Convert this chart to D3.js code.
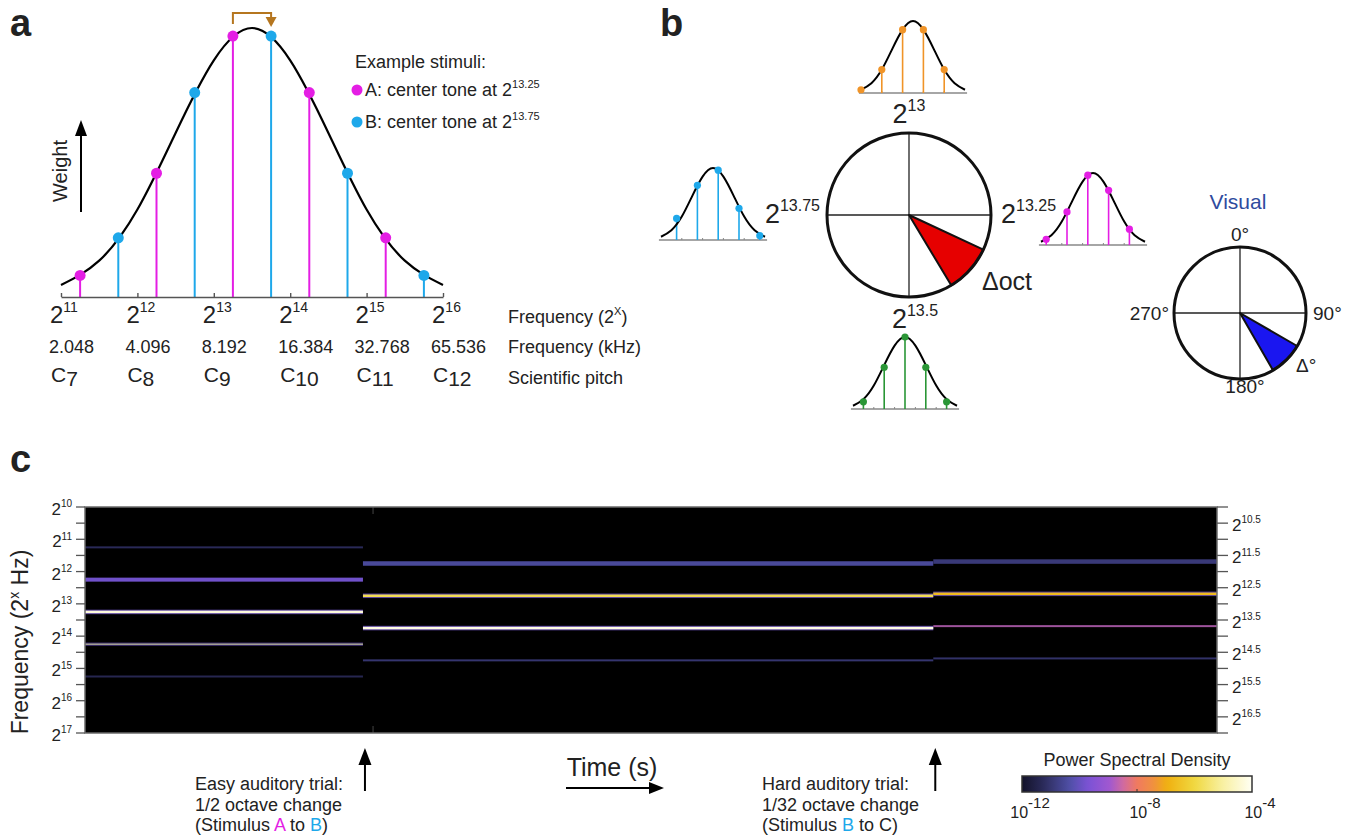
<!DOCTYPE html>
<html>
<head>
<meta charset="utf-8">
<script src="https://cdn.jsdelivr.net/npm/d3@7"></script>
<style>
  body { margin: 0; background: #fff; }
  svg { font-family: "Liberation Sans", Arial, sans-serif; }
</style>
</head>
<body>
<div class="fig"></div>
<script>
// ---------------- data ----------------
// spectral envelope: weight against octave offset from the envelope peak
const envOffsets = [-2.5, -2, -1.5, -1, -0.5, 0, 0.5, 1, 1.5, 2, 2.5];
const envWeights = [0.045, 0.135, 0.325, 0.61, 0.88, 1, 0.88, 0.61, 0.325, 0.135, 0.045];
const envCenter = 13.5;

// example stimuli (octave of each tone, weight)
const stimAOct = [11.25, 12.25, 13.25, 14.25, 15.25];
const stimAWeight = [0.08, 0.46, 0.97, 0.76, 0.22];
const stimBOct = [11.75, 12.75, 13.75, 14.75, 15.75];
const stimBWeight = [0.22, 0.76, 0.97, 0.46, 0.08];

const octTicks = [11, 12, 13, 14, 15, 16];
const kHzLabels = ['2.048', '4.096', '8.192', '16.384', '32.768', '65.536'];
const pitchLabels = ['7', '8', '9', '10', '11', '12'];

// panel b: the four stimuli round the octave circle (tone offsets from envelope peak)
const mini13Off = [-2.5, -1.5, -0.5, 0.5, 1.5];
const mini13W = [0.045, 0.325, 0.88, 0.88, 0.325];
const mini1325Off = [-2.25, -1.25, -0.25, 0.75, 1.75];
const mini1325W = [0.08, 0.46, 0.97, 0.76, 0.22];
const mini135Off = [-2, -1, 0, 1, 2];
const mini135W = [0.1, 0.58, 1, 0.58, 0.1];
const mini1375Off = [-1.75, -0.75, 0.25, 1.25, 2.25];
const mini1375W = [0.3, 0.76, 0.97, 0.44, 0.06];

const octWedge = [115, 149];     // degrees clockwise from top
const visWedge = [120, 150];
const visLabels = ['0°', '90°', '180°', '270°'];

// panel c: spectrogram, three stimulus segments (time in s)
const segStart = [0, 0.965, 2.945];
const segEnd = [0.965, 2.945, 3.93];
const seg1Oct = [11.25, 12.25, 13.25, 14.25, 15.25];
const seg1Psd = [-11.3, -9.85, -4.3, -4.3, -11.4];
const seg2Oct = [11.75, 12.75, 13.75, 14.75];
const seg2Psd = [-10.5, -5.8, -4.2, -11.0];
const seg3Oct = [11.69, 12.69, 13.69, 14.69];
const seg3Psd = [-10.9, -6.7, -8.7, -11.1];
const leftTicks = [10, 11, 12, 13, 14, 15, 16, 17];
const rightTicks = ['10.5', '11.5', '12.5', '13.5', '14.5', '15.5', '16.5'];
const psdTicks = [-12, -8, -4];

// colour map for log10 PSD
const cmapStops = [-12, -11.28, -10.32, -9.68, -8.96, -8.48, -8, -7.44, -6.96, -6, -5.04, -4];
const cmapColors = ['#12122a', '#2a2a58', '#5050a8', '#7c52d6', '#a058d0', '#d06aa0', '#f07a60',
                    '#f09040', '#f0b010', '#f0d840', '#f8f0a0', '#fffff4'];

// ---------------- drawing ----------------
const svg = d3.select('.fig').append('svg').attr('width', 1358).attr('height', 836);

const magenta = '#e41ee4', cyan = '#1ea8ea', orange = '#f09428', green = '#2a9636';

function pow2(g, x, y, exp, size, supSize, anchor) {
  const t = g.append('text').attr('x', x).attr('y', y).attr('font-size', size)
    .attr('text-anchor', anchor || 'start').attr('fill', '#222');
  t.append('tspan').text('2');
  t.append('tspan').attr('font-size', supSize).attr('dy', -size * 0.45).text(exp);
  return t;
}

function panelLabel(x, y, s) {
  svg.append('text').attr('x', x).attr('y', y).attr('font-size', 38).attr('font-weight', 'bold')
    .attr('fill', '#222').text(s);
}
panelLabel(10, 36, 'a');
panelLabel(660, 36, 'b');
panelLabel(10, 472, 'c');

// ===== panel a =====
const ga = svg.append('g');
const xa = d3.scaleLinear().domain([11, 16]).range([61, 443]);
const ya = d3.scaleLinear().domain([0, 1]).range([297, 28]);

const stems = [
  ...stimAOct.map((o, i) => ({ o, w: stimAWeight[i], c: magenta })),
  ...stimBOct.map((o, i) => ({ o, w: stimBWeight[i], c: cyan }))
];
ga.selectAll('line.stem').data(stems).join('line').attr('class', 'stem')
  .attr('x1', d => xa(d.o)).attr('x2', d => xa(d.o))
  .attr('y1', ya(0)).attr('y2', d => ya(d.w))
  .attr('stroke', d => d.c).attr('stroke-width', 2);

const envLine = d3.line().x(d => xa(d[0])).y(d => ya(d[1])).curve(d3.curveNatural);
ga.append('path').datum(envOffsets.map((o, i) => [envCenter + o, envWeights[i]]))
  .attr('d', envLine).attr('fill', 'none').attr('stroke', '#000').attr('stroke-width', 2.2);

ga.selectAll('circle.dot').data(stems).join('circle').attr('class', 'dot')
  .attr('cx', d => xa(d.o)).attr('cy', d => ya(d.w)).attr('r', 5.5).attr('fill', d => d.c);

const axA = ga.append('g').attr('transform', `translate(0,${ya(0)})`)
  .call(d3.axisTop(xa).tickValues(octTicks).tickSize(4).tickSizeOuter(0).tickFormat(''));
axA.select('.domain').attr('stroke', '#555').attr('stroke-width', 1.6);
axA.selectAll('.tick line').attr('stroke', '#555').attr('stroke-width', 1.4);

octTicks.forEach((t, i) => {
  pow2(ga, xa(t) - 11, 323, t, 24, 14);
  ga.append('text').attr('x', xa(t) - 12).attr('y', 353).attr('font-size', 18).attr('fill', '#222').text(kHzLabels[i]);
  const c = ga.append('text').attr('x', xa(t) - 10).attr('y', 382).attr('font-size', 21).attr('fill', '#222');
  c.append('tspan').text('C');
  c.append('tspan').attr('dy', 4).text(pitchLabels[i]);
});
const fq = ga.append('text').attr('x', 508).attr('y', 323).attr('font-size', 18).attr('fill', '#222');
fq.append('tspan').text('Frequency (2');
fq.append('tspan').attr('font-size', 11).attr('dy', -8).text('X');
fq.append('tspan').attr('dy', 8).text(')');
ga.append('text').attr('x', 508).attr('y', 353).attr('font-size', 18).attr('fill', '#222').text('Frequency (kHz)');
ga.append('text').attr('x', 508).attr('y', 384).attr('font-size', 18).attr('fill', '#222').text('Scientific pitch');

// shift arrow from A to B
const brown = '#b5761f';
ga.append('path')
  .attr('d', `M${xa(13.25)},${ya(0.97) - 12} V13 H${xa(13.75)} V19`)
  .attr('fill', 'none').attr('stroke', brown).attr('stroke-width', 2);
ga.append('path')
  .attr('d', `M${xa(13.75) - 5.5},17 L${xa(13.75) + 5.5},17 L${xa(13.75)},27 Z`).attr('fill', brown);

// weight arrow
ga.append('line').attr('x1', 81).attr('x2', 81).attr('y1', 212).attr('y2', 132)
  .attr('stroke', '#000').attr('stroke-width', 2);
ga.append('path').attr('d', 'M75,136 L87,136 L81,120 Z').attr('fill', '#000');
ga.append('text').attr('transform', 'translate(67,171) rotate(-90)').attr('text-anchor', 'middle')
  .attr('font-size', 20).attr('fill', '#222').text('Weight');

// legend
ga.append('text').attr('x', 355).attr('y', 68).attr('font-size', 18).attr('fill', '#222').text('Example stimuli:');
[['A', magenta, '13.25', 96], ['B', cyan, '13.75', 128]].forEach(([lab, col, ex, y]) => {
  ga.append('circle').attr('cx', 357).attr('cy', y - 6).attr('r', 5.5).attr('fill', col);
  const t = ga.append('text').attr('x', 365).attr('y', y).attr('font-size', 18).attr('fill', '#222');
  t.append('tspan').text(lab + ': center tone at 2');
  t.append('tspan').attr('font-size', 11).attr('dy', -8).text(ex);
});

// ===== panel b =====
const gb = svg.append('g');
const unit = 20.8, miniH = 72;

function mini(peakX, baseY, offs, ws, col) {
  const mx = d3.scaleLinear().domain([0, 1]).range([peakX, peakX + unit]);
  const my = d3.scaleLinear().domain([0, 1]).range([baseY, baseY - miniH]);
  const g = gb.append('g');
  g.append('line').attr('x1', mx(-2.6)).attr('x2', mx(2.6)).attr('y1', baseY).attr('y2', baseY)
    .attr('stroke', '#888').attr('stroke-width', 1.5);
  [-1.5, -0.5, 0.5, 1.5].forEach(o => g.append('line').attr('x1', mx(o)).attr('x2', mx(o))
    .attr('y1', baseY).attr('y2', baseY - 2).attr('stroke', '#888'));
  g.selectAll('line.s').data(offs).join('line').attr('class', 's')
    .attr('x1', d => mx(d)).attr('x2', d => mx(d)).attr('y1', baseY).attr('y2', (d, i) => my(ws[i]))
    .attr('stroke', col).attr('stroke-width', 1.6);
  const ln = d3.line().x(d => mx(d[0])).y(d => my(d[1])).curve(d3.curveNatural);
  g.append('path').datum(envOffsets.map((o, i) => [o, envWeights[i]])).attr('d', ln)
    .attr('fill', 'none').attr('stroke', '#000').attr('stroke-width', 2);
  g.selectAll('circle').data(offs).join('circle')
    .attr('cx', d => mx(d)).attr('cy', (d, i) => my(ws[i])).attr('r', 3.6).attr('fill', col);
}
mini(913, 93, mini13Off, mini13W, orange);
mini(1093, 245, mini1325Off, mini1325W, magenta);
mini(905, 409, mini135Off, mini135W, green);
mini(713, 240, mini1375Off, mini1375W, cyan);

function dial(cx, cy, r, wedge, fill, cross, ring) {
  const g = gb.append('g').attr('transform', `translate(${cx},${cy})`);
  g.append('circle').attr('r', r).attr('fill', '#fff');
  g.append('line').attr('x1', -r).attr('x2', r).attr('stroke', '#222').attr('stroke-width', cross);
  g.append('line').attr('y1', -r).attr('y2', r).attr('stroke', '#222').attr('stroke-width', cross);
  const arc = d3.arc().innerRadius(0).outerRadius(r)
    .startAngle(wedge[0] * Math.PI / 180).endAngle(wedge[1] * Math.PI / 180);
  g.append('path').attr('d', arc()).attr('fill', fill).attr('stroke', '#111').attr('stroke-width', 2)
    .attr('stroke-linejoin', 'round');
  g.append('circle').attr('r', r).attr('fill', 'none').attr('stroke', '#111').attr('stroke-width', ring);
}
dial(909, 215, 82, octWedge, '#e60000', 1.3, 3);
pow2(gb, 909, 123, '13', 27, 16, 'middle');
pow2(gb, 820, 223, '13.75', 27, 16, 'end');
pow2(gb, 1001, 223, '13.25', 27, 16, 'start');
pow2(gb, 915, 328, '13.5', 27, 16, 'middle');
gb.append('text').attr('x', 982).attr('y', 290).attr('font-size', 25).attr('fill', '#222').text('Δoct');

dial(1240, 313, 66, visWedge, '#1a16f0', 1.3, 3);
gb.append('text').attr('x', 1238).attr('y', 209).attr('text-anchor', 'middle').attr('font-size', 21)
  .attr('fill', '#2f4b9e').text('Visual');
const vl = gb.append('g').attr('font-size', 19).attr('fill', '#222');
vl.append('text').attr('x', 1240).attr('y', 241).attr('text-anchor', 'middle').text(visLabels[0]);
vl.append('text').attr('x', 1313).attr('y', 320).text(visLabels[1]);
vl.append('text').attr('x', 1245).attr('y', 393).attr('text-anchor', 'middle').text(visLabels[2]);
vl.append('text').attr('x', 1169).attr('y', 320).attr('text-anchor', 'end').text(visLabels[3]);
vl.append('text').attr('x', 1296).attr('y', 372).text('Δ°');

// ===== panel c =====
const gc = svg.append('g');
const xc = d3.scaleLinear().domain([0, 3.93]).range([85, 1217]);
const yc = d3.scaleLinear().domain([10, 17]).range([507, 733]);
const cmap = d3.scaleLinear().domain(cmapStops).range(cmapColors).clamp(true);

gc.append('rect').attr('x', 85).attr('y', 507).attr('width', 1132).attr('height', 226).attr('fill', '#000');

// band thickness (px) per segment tone, violet fringe flag, band opacity
const bandW = [[2, 4, 2.5, 1.4, 2], [4.5, 2.5, 2.5, 2], [4.5, 2.5, 2, 2]];
const fringe = [[0, 0, 1, 1, 0], [0, 1, 1, 0], [0, 1, 0, 0]];
const bandOp = [[1, 1, 1, 0.68, 1], [1, 1, 1, 1], [1, 1, 0.85, 1]];
const segs = [[seg1Oct, seg1Psd], [seg2Oct, seg2Psd], [seg3Oct, seg3Psd]];
segs.forEach(([octs, psd], s) => {
  octs.forEach((o, i) => {
    const w = bandW[s][i];
    const band = gc.append('g').attr('opacity', bandOp[s][i]);
    if (fringe[s][i]) {
      band.append('rect').attr('x', xc(segStart[s])).attr('width', xc(segEnd[s]) - xc(segStart[s]))
        .attr('y', yc(o) - w / 2 - 1).attr('height', w + 2).attr('fill', cmap(-9.9)).attr('opacity', 0.8);
    }
    band.append('rect').attr('x', xc(segStart[s])).attr('width', xc(segEnd[s]) - xc(segStart[s]))
      .attr('y', yc(o) - w / 2).attr('height', w).attr('fill', cmap(psd[i]));
  });
});

// x tick (time) top and bottom
gc.append('line').attr('x1', xc(1)).attr('x2', xc(1)).attr('y1', 507).attr('y2', 514).attr('stroke', '#444');
gc.append('line').attr('x1', xc(1)).attr('x2', xc(1)).attr('y1', 726).attr('y2', 733).attr('stroke', '#444');
gc.append('rect').attr('x', 85).attr('y', 507).attr('width', 1132).attr('height', 226)
  .attr('fill', 'none').attr('stroke', '#6a6a6a').attr('stroke-width', 1.5);

// left axis: integer ticks labelled, half ticks unlabelled (and the reverse on the right)
const halfs = d3.range(10, 17.01, 0.5);
gc.selectAll('line.lt').data(halfs).join('line').attr('class', 'lt')
  .attr('x1', 76).attr('x2', 85).attr('y1', d => yc(d)).attr('y2', d => yc(d))
  .attr('stroke', '#555').attr('stroke-width', 1.3);
gc.selectAll('line.rt').data(halfs).join('line').attr('class', 'rt')
  .attr('x1', 1217).attr('x2', 1228).attr('y1', d => yc(d)).attr('y2', d => yc(d))
  .attr('stroke', '#555').attr('stroke-width', 1.3);
leftTicks.forEach(t => pow2(gc, 72, yc(t) + 8, t, 17, 10, 'end'));
rightTicks.forEach(t => pow2(gc, 1232, yc(+t) + 8, t, 17, 10, 'start'));

const yl = gc.append('text').attr('transform', 'translate(28,642) rotate(-90)').attr('text-anchor', 'middle')
  .attr('font-size', 23).attr('fill', '#222');
yl.append('tspan').text('Frequency (2');
yl.append('tspan').attr('font-size', 14).attr('dy', -9).text('x');
yl.append('tspan').attr('dy', 9).text(' Hz)');

// trial arrows and notes
function upArrow(x) {
  gc.append('line').attr('x1', x).attr('x2', x).attr('y1', 791).attr('y2', 760).attr('stroke', '#000').attr('stroke-width', 2);
  gc.append('path').attr('d', `M${x - 6.5},765 L${x + 6.5},765 L${x},748 Z`).attr('fill', '#000');
}
upArrow(xc(segEnd[0]) + 2);
upArrow(xc(segEnd[1]) + 2);

function note(x, lines) {
  lines.forEach((parts, i) => {
    const t = gc.append('text').attr('x', x).attr('y', 790 + i * 20.5).attr('font-size', 18).attr('fill', '#222');
    parts.forEach(([s, c]) => t.append('tspan').attr('fill', c || '#222').text(s));
  });
}
note(195, [[['Easy auditory trial:']], [['1/2 octave change']], [['(Stimulus '], ['A', magenta], [' to '], ['B', cyan], [')']]]);
note(762, [[['Hard auditory trial:']], [['1/32 octave change']], [['(Stimulus '], ['B', cyan], [' to C)']]]);

gc.append('text').attr('x', 612).attr('y', 776).attr('text-anchor', 'middle').attr('font-size', 25)
  .attr('fill', '#222').text('Time (s)');
gc.append('line').attr('x1', 566).attr('x2', 652).attr('y1', 788).attr('y2', 788).attr('stroke', '#000').attr('stroke-width', 2.2);
gc.append('path').attr('d', 'M649,782 L649,794 L664,788 Z').attr('fill', '#000');

// colour bar
const cb = d3.scaleLinear().domain([-12, -4]).range([1022, 1252]);
const grad = svg.append('defs').append('linearGradient').attr('id', 'psd');
d3.range(0, 1.0001, 0.02).forEach(f => grad.append('stop').attr('offset', f)
  .attr('stop-color', cmap(-12 + 8 * f)));
gc.append('text').attr('x', 1137).attr('y', 766).attr('text-anchor', 'middle').attr('font-size', 18)
  .attr('fill', '#222').text('Power Spectral Density');
gc.append('rect').attr('x', cb(-12)).attr('y', 776).attr('width', cb(-4) - cb(-12)).attr('height', 16)
  .attr('fill', 'url(#psd)').attr('stroke', '#333').attr('stroke-width', 1.5);
gc.append('line').attr('x1', cb(-8)).attr('x2', cb(-8)).attr('y1', 792).attr('y2', 789).attr('stroke', '#333');
psdTicks.forEach(p => {
  const t = gc.append('text').attr('x', cb(p) + 8).attr('y', 818).attr('text-anchor', 'middle')
    .attr('font-size', 16).attr('fill', '#222');
  t.append('tspan').text('10');
  t.append('tspan').attr('font-size', 15).attr('dy', -10).text(p);
});
</script>
</body>
</html>
